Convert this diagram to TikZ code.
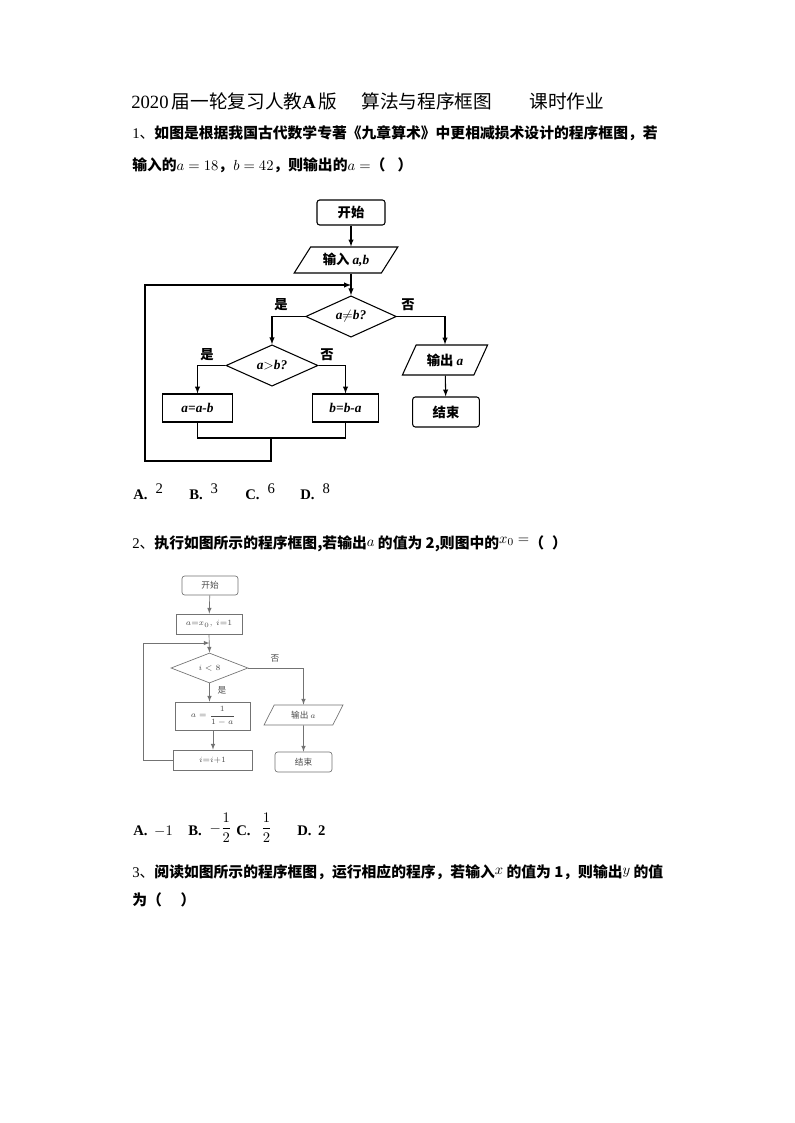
\documentclass[tikz,border=0pt]{standalone}
\usepackage{amsmath}
\usepackage{fontspec}
\setmainfont{Liberation Serif}
\newfontfamily\cjk{Noto Sans CJK SC}
\usetikzlibrary{positioning,shapes.geometric,arrows}

\begin{document}
\begin{tikzpicture}[x=0.75pt, y=-0.75pt, >=latex,
    txt/.style={anchor=west, inner sep=0pt, font=\fontsize{11.1}{13}\selectfont\cjk\bfseries},
    opt/.style={anchor=base west, inner sep=0pt, font=\fontsize{11}{13}\selectfont\rmfamily},
    term/.style={rectangle, rounded corners=2pt, draw, line width=0.8pt, inner sep=1pt,
        font=\fontsize{10}{12}\selectfont\cjk\bfseries},
    io/.style={trapezium, trapezium left angle=55, trapezium right angle=125,
        trapezium stretches=true, draw, line width=0.8pt, inner sep=1pt,
        font=\fontsize{10}{12}\selectfont\cjk\bfseries},
    proc/.style={rectangle, draw, line width=0.8pt, inner sep=1pt,
        font=\fontsize{10}{12}\selectfont\bfseries\itshape},
    test/.style={diamond, draw, line width=0.8pt, inner sep=0pt, aspect=2.2,
        font=\fontsize{10}{12}\selectfont\bfseries\itshape},
    yesno/.style={inner sep=0pt, font=\fontsize{10}{12}\selectfont\cjk\bfseries},
    flow/.style={line width=0.8pt},
    small/.style={line width=0.5pt, draw=black!55, text=black!70,
        font=\fontsize{6.5}{8}\selectfont\cjk},
    thin/.style={line width=0.5pt, draw=black!55}
]
\useasboundingbox[fill=white] (0,0) rectangle (794,1123);

% texts
\node [txt, font=\fontsize{14}{16}\selectfont\cjk] (title) at (131,101)
    {{\rmfamily 2020}\,届一轮复习人教{\rmfamily\bfseries A}\,版\hspace{18pt}算法与程序框图\hspace{28pt}课时作业};
\node [txt] (q1a) at (132,133)
    {{\mdseries{\rmfamily 1}、}如图是根据我国古代数学专著《九章算术》中更相减损术设计的程序框图，若};
\node [txt] (q1b) at (132,165)
    {输入的{\mdseries$a=18$}，{\mdseries$b=42$}，则输出的{\mdseries$a=$}（\hspace{9pt}）};

% flowchart 1
\node [term, minimum width=51pt, minimum height=18.75pt] (start1) at (351,212.5) {开始};
\node [io, minimum width=78pt, minimum height=19.5pt] (in1) at (346,260) {输入 {\rmfamily\itshape a,b}};
\node [test, minimum width=68pt, minimum height=31pt] (d1) at (351,316.5) {a$\neq$b?};
\node [test, minimum width=69pt, minimum height=31pt] (d2) at (272,365.5) {a$>$b?};
\node [proc, minimum width=52pt, minimum height=21pt] (a1) at (197.5,408) {a=a-b};
\node [proc, minimum width=50pt, minimum height=21pt] (b1) at (345.5,408) {b=b-a};
\node [io, trapezium left angle=59, trapezium right angle=121,
    minimum width=64pt, minimum height=22.5pt] (out1) at (445,360) {输出 {\rmfamily\itshape a}};
\node [term, minimum width=50pt, minimum height=22.5pt] (end1) at (446,412) {结束};

\node [yesno] (y1) at (281,305) {是};
\node [yesno] (n1) at (408,305) {否};
\node [yesno] (y2) at (207,355) {是};
\node [yesno] (n2) at (327,355) {否};

\coordinate (j1) at (271,438);
\coordinate (k1) at (145,285);
\coordinate (e1) at (351,285);

\draw [flow,->] (start1) -- (start1.south |- in1.north);
\draw [flow,->] (start1.south |- in1.south) -- (d1.north);
\draw [flow,->] (d1.west) -| (d2.north);
\draw [flow,->] (d1.east) -| (out1.north);
\draw [flow,->] (d2.west) -| (a1.north);
\draw [flow,->] (d2.east) -| (b1.north);
\draw [flow,->] (out1) -- (end1);
\draw [flow] (a1.south) |- (j1) -| (b1.south);
\draw [flow,->] (j1) -- ++(0,23) -| (k1) -- (e1);

% options 1
\node [opt] (o1a) at (133,499) {\textbf{A.}\hspace{6pt}\raisebox{4pt}{2}};
\node [opt] (o1b) at (189,499) {\textbf{B.}\hspace{6pt}\raisebox{4pt}{3}};
\node [opt] (o1c) at (245,499) {\textbf{C.}\hspace{6pt}\raisebox{4pt}{6}};
\node [opt] (o1d) at (300,499) {\textbf{D.}\hspace{6pt}\raisebox{4pt}{8}};

\node [txt] (q2) at (132,544)
    {{\mdseries{\rmfamily 2}、}执行如图所示的程序框图,若输出{\mdseries\raisebox{2pt}{$a$}} 的值为 2,则图中的{\mdseries\raisebox{4pt}{$x_0=$}}（\hspace{6pt}）};

% flowchart 2
\node [term, small, minimum width=42pt, minimum height=14.25pt] (start2) at (210,585.5) {开始};
\node [proc, small, minimum width=49.5pt, minimum height=15pt] (init2) at (209,624) {$a{=}x_0,\ i{=}1$};
\node [test, small, minimum width=57.75pt, minimum height=22.5pt] (cond2) at (209.5,668) {$i<8$};
\node [proc, small, minimum width=56.25pt, minimum height=21pt] (upd2) at (213,716) {$a=\dfrac{1}{1-a}$};
\node [proc, small, minimum width=59.25pt, minimum height=15pt] (inc2) at (212.5,760) {$i{=}i{+}1$};
\node [io, small, trapezium left angle=66, trapezium right angle=114,
    minimum width=59.25pt, minimum height=15pt] (out2) at (303.5,715) {输出 $a$};
\node [term, small, minimum width=42.75pt, minimum height=15pt] (end2) at (303.5,762) {结束};

\node [yesno, small, draw=none] (n3) at (275,658) {否};
\node [yesno, small, draw=none] (y3) at (222,690) {是};

\coordinate (k2) at (143,643);
\coordinate (e2) at (209.5,643);

\draw [thin,->] (start2) -- (init2);
\draw [thin,->] (init2.south) -- (cond2.north);
\draw [thin,->] (cond2.south) -- (cond2.south |- upd2.north);
\draw [thin,->] (upd2.south) -- (upd2.south |- inc2.north);
\draw [thin,->] (cond2.east) -| (out2.north);
\draw [thin,->] (out2) -- (end2);
\draw [thin,->] (inc2.west) -| (k2) -- (e2);

% options 2
\node [opt] (o2a) at (133,835) {\textbf{A.}\hspace{5pt}$-1$};
\node [opt] (o2b) at (188,835) {\textbf{B.}\hspace{6pt}\raisebox{2pt}{$-\dfrac{1}{2}$}};
\node [opt] (o2c) at (236,835) {\textbf{C.}\hspace{8pt}\raisebox{2pt}{$\dfrac{1}{2}$}};
\node [opt] (o2d) at (297,835) {\textbf{D.}\hspace{5pt}\textbf{2}};

\node [txt] (q3a) at (132,872)
    {{\mdseries{\rmfamily 3}、}阅读如图所示的程序框图，运行相应的程序，若输入{\mdseries\raisebox{2pt}{$x$}} 的值为 1，则输出{\mdseries\raisebox{2pt}{$y$}} 的值};
\node [txt] (q3b) at (132,900) {为（\hspace{14pt}）};

\end{tikzpicture}
\end{document}
